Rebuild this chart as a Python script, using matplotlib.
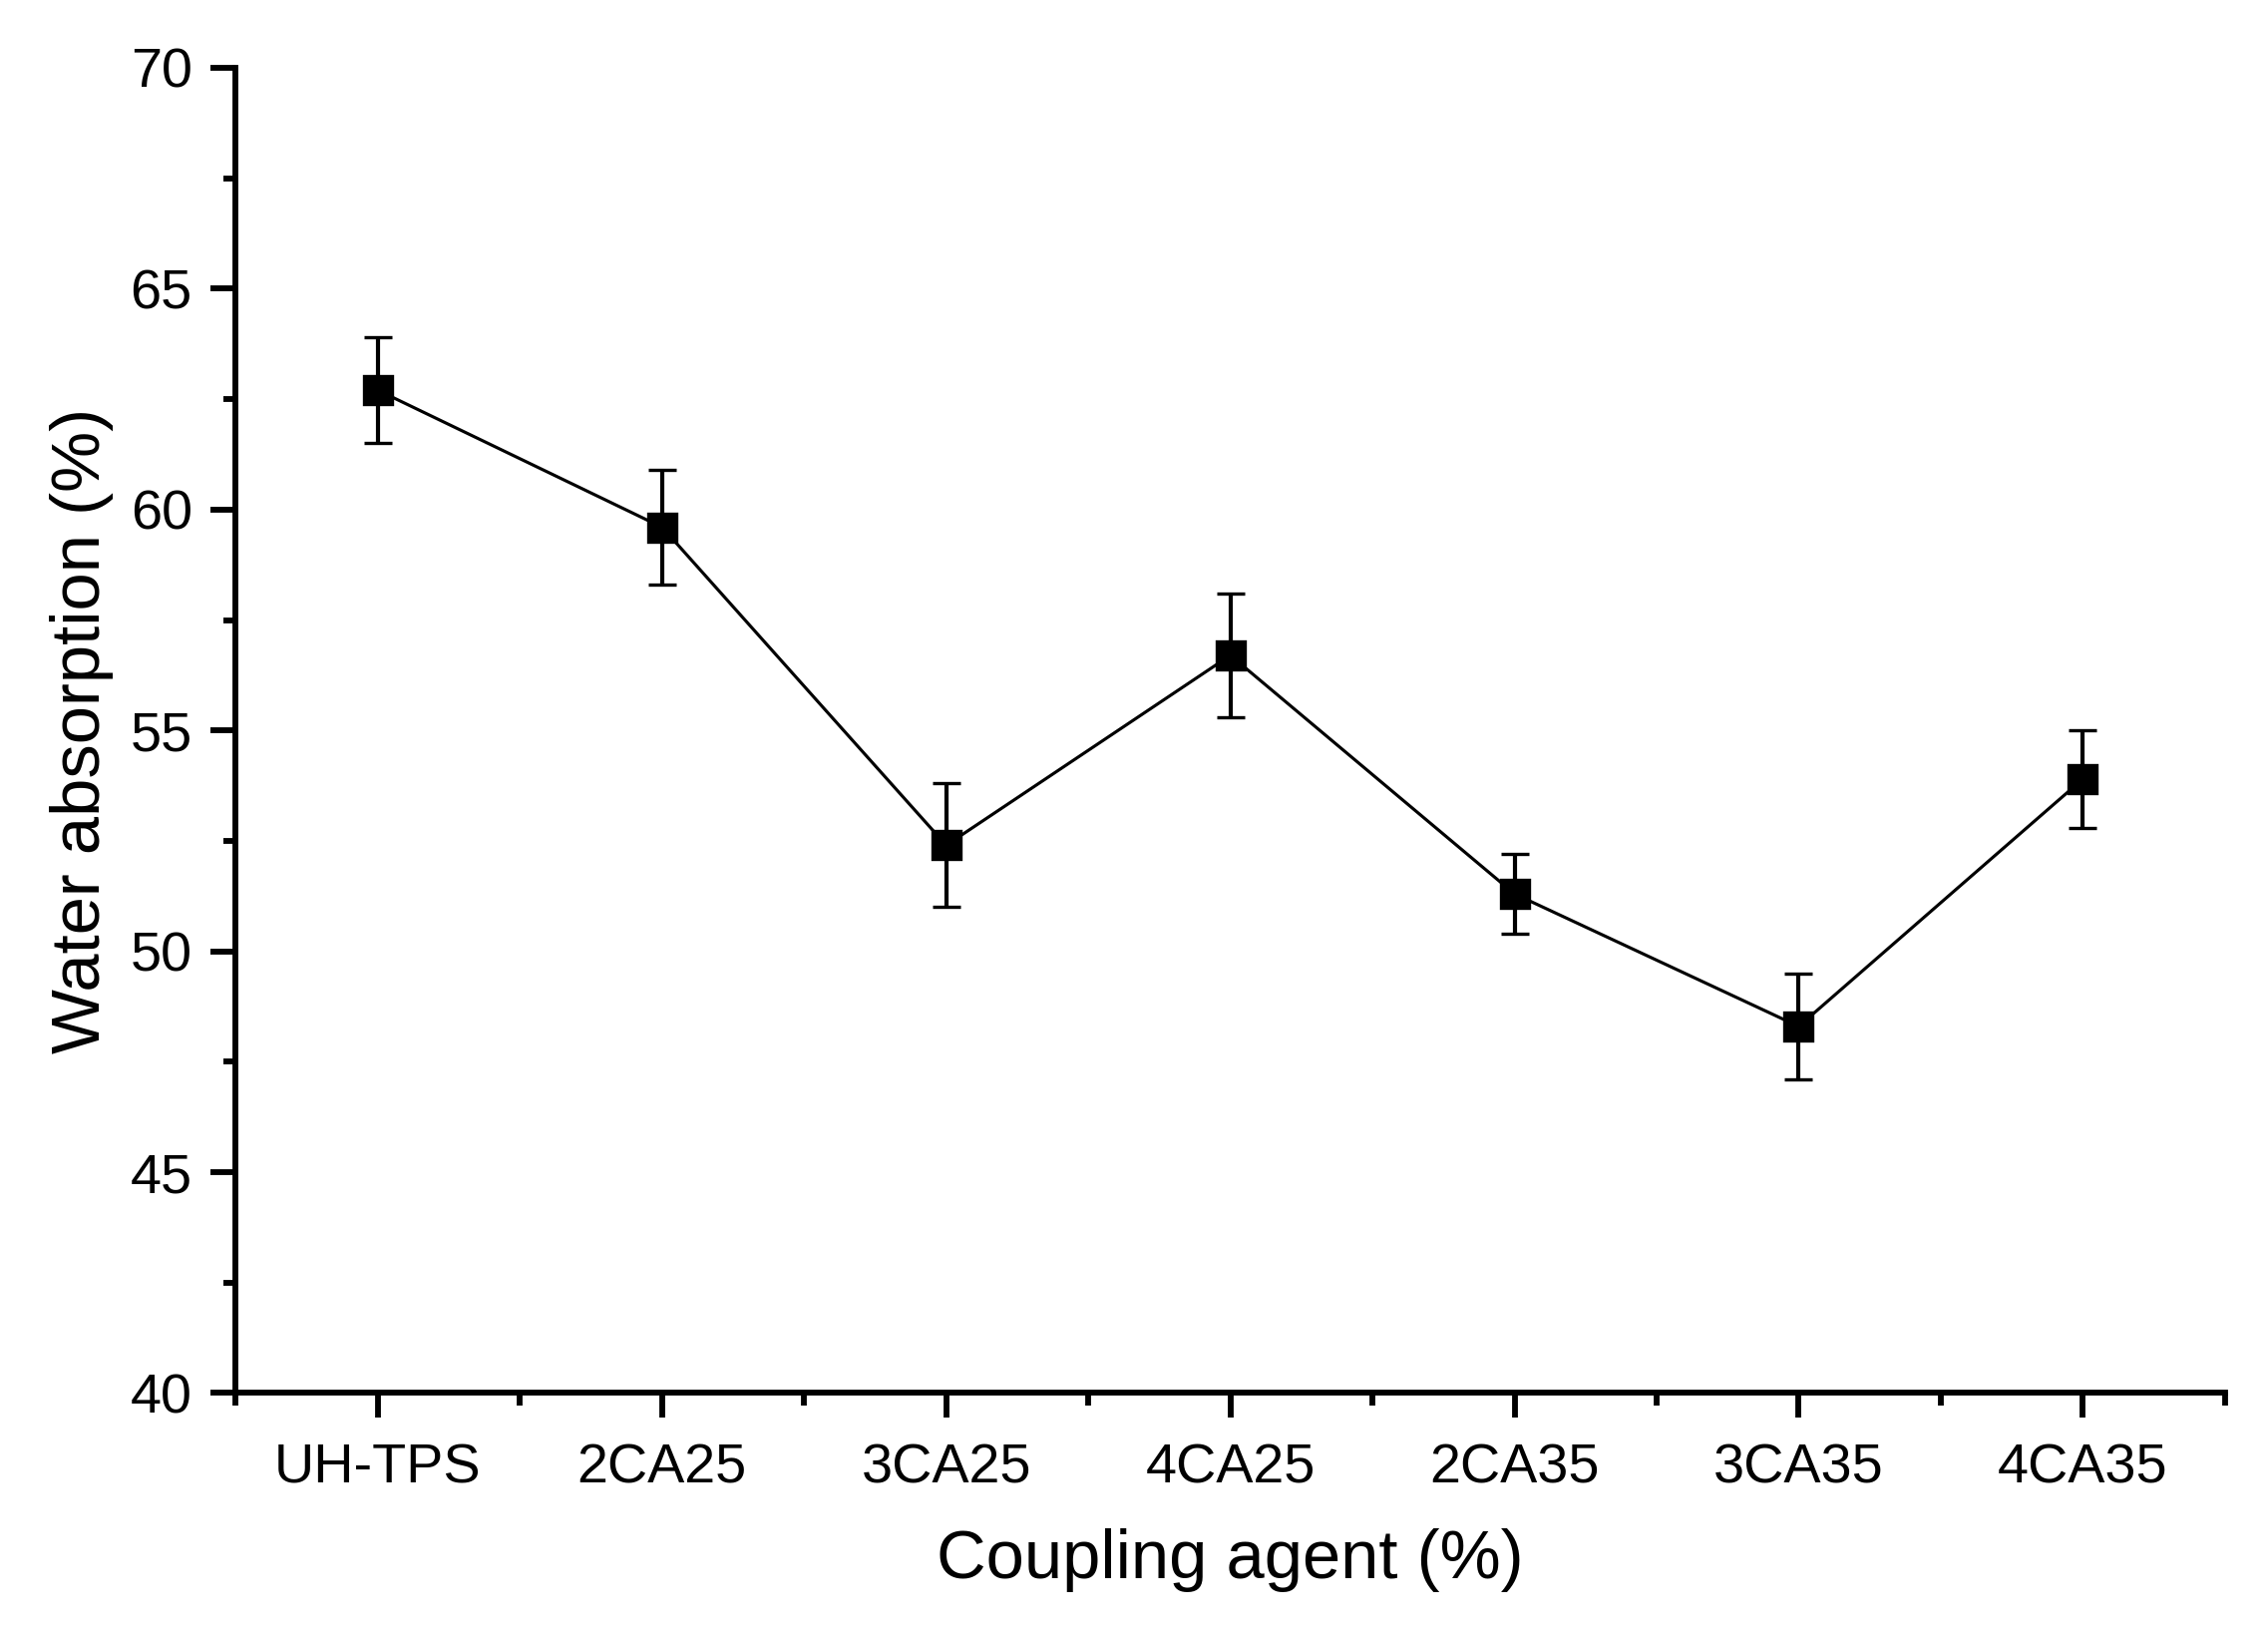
import numpy as np
import matplotlib
matplotlib.use('Agg')
import matplotlib.pyplot as plt
from matplotlib.ticker import MultipleLocator, FixedLocator

# data
samples = ['UH-TPS', '2CA25', '3CA25', '4CA25', '2CA35', '3CA35', '4CA35']
water_absorption = [62.7, 59.6, 52.4, 56.7, 51.3, 48.3, 53.9]
error = [1.2, 1.3, 1.4, 1.4, 0.9, 1.2, 1.1]

plt.rcParams['font.family'] = ['Liberation Sans', 'DejaVu Sans']

fig = plt.figure(figsize=(7.58, 5.47), dpi=300)
ax = fig.add_axes([0.104, 0.149, 0.877, 0.8096])

x = np.arange(len(samples))
ax.errorbar(x, water_absorption, yerr=error, fmt='s-', color='black',
            markersize=6.8, linewidth=0.75, elinewidth=1.0, capsize=3.3,
            capthick=1.0, markeredgewidth=0.8)

ax.set_xlim(-0.5, len(samples) - 0.5)
ax.set_ylim(40, 70)
ax.set_xticks(x)
ax.set_xticklabels(samples)
ax.xaxis.set_minor_locator(FixedLocator(np.arange(-0.5, len(samples), 1.0)))
ax.yaxis.set_major_locator(MultipleLocator(5))
ax.yaxis.set_minor_locator(MultipleLocator(2.5))

for side in ['top', 'right']:
    ax.spines[side].set_visible(False)
for side in ['left', 'bottom']:
    ax.spines[side].set_linewidth(1.4)

ax.tick_params(which='major', direction='out', length=6, width=1.4, labelsize=13.4)
ax.tick_params(which='minor', direction='out', length=3, width=1.4)
ax.tick_params(axis='y', which='major', pad=4.5)
ax.tick_params(axis='x', which='major', pad=6)

ax.set_xlabel('Coupling agent (%)', fontsize=16.5, labelpad=8)
ax.set_ylabel('Water absorption (%)', fontsize=16.5, labelpad=4)

fig.savefig('out.png', dpi=300)
